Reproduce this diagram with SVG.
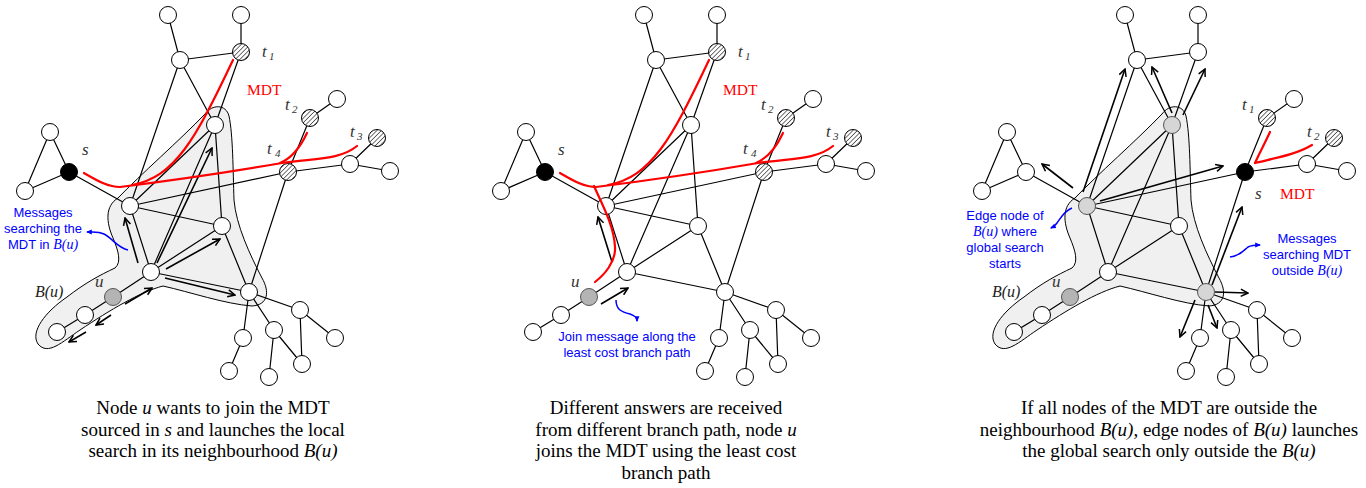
<svg xmlns="http://www.w3.org/2000/svg" width="1366" height="488" viewBox="0 0 1366 488">
<defs>
<style>
.e{stroke:#000;stroke-width:1.2;fill:none}
.n{fill:#fff;stroke:#000;stroke-width:1}
.nb{fill:#000;stroke:#000;stroke-width:1}
.nh{fill:url(#hatch);stroke:#000;stroke-width:1}
.ng{fill:#b4b4b4;stroke:#555;stroke-width:1}
.ne{fill:#d6d6d6;stroke:#555;stroke-width:1}
.blob{fill:#f0f0f0;stroke:#000;stroke-width:1}
.red{stroke:#f00;stroke-width:2.2;fill:none;stroke-linecap:round}
.ar{stroke:#000;stroke-width:1.6;fill:none;marker-end:url(#ah)}
.ba{stroke:#00f;stroke-width:1.5;fill:none;marker-end:url(#bh)}
.lbl{font-family:"Liberation Serif","Times New Roman",serif;font-style:italic;fill:#333;font-size:17px}
.sub{font-size:11px}
.mdt{font-family:"Liberation Serif","Times New Roman",serif;font-size:15.5px;fill:#f00}
.bt{font-family:"Liberation Sans",Arial,sans-serif;font-size:13px;fill:#00f;text-anchor:middle}
.cap{font-family:"Liberation Serif","Times New Roman",serif;font-size:19px;fill:#000;text-anchor:middle}
.it{font-family:"Liberation Serif","Times New Roman",serif;font-style:italic}
</style>
<pattern id="hatch" width="3.2" height="3.2" patternUnits="userSpaceOnUse" patternTransform="rotate(45)">
<rect width="3.2" height="3.2" fill="#fff"/>
<line x1="0" y1="0" x2="0" y2="3.2" stroke="#444" stroke-width="1.5"/>
</pattern>
<marker id="ah" viewBox="0 0 10 10" refX="9" refY="5" markerWidth="9" markerHeight="9" markerUnits="userSpaceOnUse" orient="auto">
<path d="M1,1 L9,5 L1,9" fill="none" stroke="#000" stroke-width="1.7"/>
</marker>
<marker id="bh" viewBox="0 0 10 10" refX="8" refY="5" markerWidth="6" markerHeight="6" markerUnits="userSpaceOnUse" orient="auto">
<path d="M0,1 L10,5 L0,9 Z" fill="#00f"/>
</marker>
<path id="blobshape" d="M118,198 C140,175 180,140 205,114 C212,104 226,104 229,116 C233,135 233,170 234,200 C236,225 250,255 262,278 C270,292 268,305 252,306 C225,304 190,292 163,286 C140,292 110,310 80,330 C62,342 48,356 38,344 C30,332 45,312 67,297 C85,283 100,275 115,268 C122,262 118,250 113,238 C106,222 105,206 118,198 Z"/>
<path id="edges" d="M168,15L180,60 M180,60L241,52 M241,52L241,15 M180,60L215,125 M180,60L130,206 M241,52L215,125 M215,125L130,206 M215,125L222,226 M215,125L151,272 M50,132L69,172 M50,132L25,191 M25,191L69,172 M69,172L130,206 M130,206L222,226 M130,206L288,172 M130,206L151,272 M151,272L222,226 M151,272L249,292 M151,272L113,297 M113,297L85,315 M85,315L57,332 M222,226L249,292 M249,292L288,172 M288,172L310,118 M310,118L337,99 M288,172L350,164 M350,164L377,138 M350,164L390,171 M249,292L300,310 M249,292L274,330 M249,292L243,338 M300,310L335,338 M300,310L302,364 M274,330L302,364 M274,330L269,377 M243,338L229,371"/>
</defs>

<g id="neighbourhoods">
<use href="#blobshape" class="blob"/>
<use href="#blobshape" class="blob" transform="translate(957,0)"/>
</g>

<g id="connectors">
<g id="edges-p1"><use href="#edges" class="e"/></g>
<g id="edges-p2" transform="translate(476,0)"><use href="#edges" class="e"/></g>
<g id="edges-p3" transform="translate(957,0)"><use href="#edges" class="e"/></g>
<g id="arrows-p1">
<path class="ar" d="M125,304 L152,288"/>
<path class="ar" d="M111,315 L96,325"/>
<path class="ar" d="M86,332 L69,342"/>
<path class="ar" d="M138,263 L125,218"/>
<path class="ar" d="M166,269 L220,239"/>
<path class="ar" d="M165,278 L235,295"/>
<path class="ar" d="M157,263 L212,148"/>
</g>
<g id="arrows-p2" transform="translate(476,0)">
<path class="ar" d="M125,304 L152,288"/>
<path class="ar" d="M136,262 L122,217"/>
</g>
<g id="arrows-p3" transform="translate(957,0)">
<path class="ar" d="M116,188 L85,164"/>
<path class="ar" d="M126,192 L168,69"/>
<path class="ar" d="M215,113 L195,67"/>
<path class="ar" d="M226,115 L248,69"/>
<path class="ar" d="M143,201 L266,166"/>
<path class="ar" d="M255,285 L285,207"/>
<path class="ar" d="M258,292 L291,293"/>
<path class="ar" d="M238,300 L223,337"/>
<path class="ar" d="M251,305 L260,328"/>
</g>
<g id="blue-arrows">
<path class="ba" d="M128,250 C118,248 112,238 104,234 C98,231 92,232 87,232"/>
<path class="ba" d="M616,300 C616,310 622,312 630,314 C636,316 637,318 637,321"/>
<path class="ba" d="M1072,208 C1064,211 1060,219 1057,223 C1055,226 1053,227 1051,228"/>
<path class="ba" d="M1230,257 C1240,256 1244,250 1248,247 C1252,245 1256,245 1260,245"/>
</g>
</g>

<g id="nodes-p1">
<g id="p1-top1"><circle class="n" cx="168" cy="15" r="8.5"/></g>
<g id="p1-b"><circle class="n" cx="180" cy="60" r="8.5"/></g>
<g id="p1-top2"><circle class="n" cx="241" cy="15" r="8.5"/></g>
<g id="p1-t1"><circle class="nh" cx="241" cy="52" r="8.5"/></g>
<g id="p1-c"><circle class="n" cx="215" cy="125" r="8.5"/></g>
<g id="p1-tri-top"><circle class="n" cx="50" cy="132" r="8.5"/></g>
<g id="p1-s"><circle class="nb" cx="69" cy="172" r="8.5"/></g>
<g id="p1-tri-left"><circle class="n" cx="25" cy="191" r="8.5"/></g>
<g id="p1-d"><circle class="n" cx="130" cy="206" r="8.5"/></g>
<g id="p1-e"><circle class="n" cx="222" cy="226" r="8.5"/></g>
<g id="p1-f"><circle class="n" cx="151" cy="272" r="8.5"/></g>
<g id="p1-u"><circle class="ng" cx="113" cy="297" r="8.5"/></g>
<g id="p1-u2"><circle class="n" cx="85" cy="315" r="8.5"/></g>
<g id="p1-u3"><circle class="n" cx="57" cy="332" r="8.5"/></g>
<g id="p1-g"><circle class="n" cx="249" cy="292" r="8.5"/></g>
<g id="p1-h"><circle class="n" cx="300" cy="310" r="8.5"/></g>
<g id="p1-i"><circle class="n" cx="274" cy="330" r="8.5"/></g>
<g id="p1-j"><circle class="n" cx="243" cy="338" r="8.5"/></g>
<g id="p1-k"><circle class="n" cx="335" cy="338" r="8.5"/></g>
<g id="p1-l"><circle class="n" cx="229" cy="371" r="8.5"/></g>
<g id="p1-m"><circle class="n" cx="269" cy="377" r="8.5"/></g>
<g id="p1-nn"><circle class="n" cx="302" cy="364" r="8.5"/></g>
<g id="p1-t2"><circle class="nh" cx="310" cy="118" r="8.5"/></g>
<g id="p1-t2n"><circle class="n" cx="337" cy="99" r="8.5"/></g>
<g id="p1-t3"><circle class="nh" cx="377" cy="138" r="8.5"/></g>
<g id="p1-t3n"><circle class="n" cx="350" cy="164" r="8.5"/></g>
<g id="p1-far"><circle class="n" cx="390" cy="171" r="8.5"/></g>
<g id="p1-t4"><circle class="nh" cx="288" cy="172" r="8.5"/></g>
</g>

<g id="nodes-p2" transform="translate(476,0)">
<g id="p2-top1"><circle class="n" cx="168" cy="15" r="8.5"/></g>
<g id="p2-b"><circle class="n" cx="180" cy="60" r="8.5"/></g>
<g id="p2-top2"><circle class="n" cx="241" cy="15" r="8.5"/></g>
<g id="p2-t1"><circle class="nh" cx="241" cy="52" r="8.5"/></g>
<g id="p2-c"><circle class="n" cx="215" cy="125" r="8.5"/></g>
<g id="p2-tri-top"><circle class="n" cx="50" cy="132" r="8.5"/></g>
<g id="p2-s"><circle class="nb" cx="69" cy="172" r="8.5"/></g>
<g id="p2-tri-left"><circle class="n" cx="25" cy="191" r="8.5"/></g>
<g id="p2-d"><circle class="n" cx="130" cy="206" r="8.5"/></g>
<g id="p2-e"><circle class="n" cx="222" cy="226" r="8.5"/></g>
<g id="p2-f"><circle class="n" cx="151" cy="272" r="8.5"/></g>
<g id="p2-u"><circle class="ng" cx="113" cy="297" r="8.5"/></g>
<g id="p2-u2"><circle class="n" cx="85" cy="315" r="8.5"/></g>
<g id="p2-u3"><circle class="n" cx="57" cy="332" r="8.5"/></g>
<g id="p2-g"><circle class="n" cx="249" cy="292" r="8.5"/></g>
<g id="p2-h"><circle class="n" cx="300" cy="310" r="8.5"/></g>
<g id="p2-i"><circle class="n" cx="274" cy="330" r="8.5"/></g>
<g id="p2-j"><circle class="n" cx="243" cy="338" r="8.5"/></g>
<g id="p2-k"><circle class="n" cx="335" cy="338" r="8.5"/></g>
<g id="p2-l"><circle class="n" cx="229" cy="371" r="8.5"/></g>
<g id="p2-m"><circle class="n" cx="269" cy="377" r="8.5"/></g>
<g id="p2-nn"><circle class="n" cx="302" cy="364" r="8.5"/></g>
<g id="p2-t2"><circle class="nh" cx="310" cy="118" r="8.5"/></g>
<g id="p2-t2n"><circle class="n" cx="337" cy="99" r="8.5"/></g>
<g id="p2-t3"><circle class="nh" cx="377" cy="138" r="8.5"/></g>
<g id="p2-t3n"><circle class="n" cx="350" cy="164" r="8.5"/></g>
<g id="p2-far"><circle class="n" cx="390" cy="171" r="8.5"/></g>
<g id="p2-t4"><circle class="nh" cx="288" cy="172" r="8.5"/></g>
</g>

<g id="nodes-p3" transform="translate(957,0)">
<g id="p3-top1"><circle class="n" cx="168" cy="15" r="8.5"/></g>
<g id="p3-b"><circle class="n" cx="180" cy="60" r="8.5"/></g>
<g id="p3-top2"><circle class="n" cx="241" cy="15" r="8.5"/></g>
<g id="p3-a"><circle class="n" cx="241" cy="52" r="8.5"/></g>
<g id="p3-c"><circle class="ne" cx="215" cy="125" r="8.5"/></g>
<g id="p3-tri-top"><circle class="n" cx="50" cy="132" r="8.5"/></g>
<g id="p3-tri-right"><circle class="n" cx="69" cy="172" r="8.5"/></g>
<g id="p3-tri-left"><circle class="n" cx="25" cy="191" r="8.5"/></g>
<g id="p3-d"><circle class="ne" cx="130" cy="206" r="8.5"/></g>
<g id="p3-e"><circle class="n" cx="222" cy="226" r="8.5"/></g>
<g id="p3-f"><circle class="n" cx="151" cy="272" r="8.5"/></g>
<g id="p3-u"><circle class="ng" cx="113" cy="297" r="8.5"/></g>
<g id="p3-u2"><circle class="n" cx="85" cy="315" r="8.5"/></g>
<g id="p3-u3"><circle class="n" cx="57" cy="332" r="8.5"/></g>
<g id="p3-g"><circle class="ne" cx="249" cy="292" r="8.5"/></g>
<g id="p3-h"><circle class="n" cx="300" cy="310" r="8.5"/></g>
<g id="p3-i"><circle class="n" cx="274" cy="330" r="8.5"/></g>
<g id="p3-j"><circle class="n" cx="243" cy="338" r="8.5"/></g>
<g id="p3-k"><circle class="n" cx="335" cy="338" r="8.5"/></g>
<g id="p3-l"><circle class="n" cx="229" cy="371" r="8.5"/></g>
<g id="p3-m"><circle class="n" cx="269" cy="377" r="8.5"/></g>
<g id="p3-nn"><circle class="n" cx="302" cy="364" r="8.5"/></g>
<g id="p3-t1"><circle class="nh" cx="310" cy="118" r="8.5"/></g>
<g id="p3-t1n"><circle class="n" cx="337" cy="99" r="8.5"/></g>
<g id="p3-t2"><circle class="nh" cx="377" cy="138" r="8.5"/></g>
<g id="p3-t2n"><circle class="n" cx="350" cy="164" r="8.5"/></g>
<g id="p3-far"><circle class="n" cx="390" cy="171" r="8.5"/></g>
<g id="p3-s"><circle class="nb" cx="288" cy="172" r="8.5"/></g>
</g>

<g id="mdt-trees">
<g id="mdt-p1">
<path class="red" d="M84,173 C98,181 108,187 120,187 C160,182 230,172 282,163 C315,158 340,160 357,146"/>
<path class="red" d="M132,185 C175,177 195,140 233,60"/>
<path class="red" d="M280,163 C292,158 300,148 307,133"/>
</g>
<g id="mdt-p2" transform="translate(476,0)">
<path class="red" d="M84,173 C98,181 108,187 120,187 C160,182 230,172 282,163 C315,158 340,160 357,146"/>
<path class="red" d="M132,185 C175,177 195,140 233,60"/>
<path class="red" d="M280,163 C292,158 300,148 307,133"/>
<path class="red" d="M118,186 C124,200 138,225 139,247 C140,262 128,275 119,282"/>
</g>
<g id="mdt-p3">
<path class="red" d="M1270,132 C1264,145 1259,154 1255,163"/>
<path class="red" d="M1255,163 C1275,158 1295,155 1312,145"/>
</g>
</g>

<g id="labels">
<text class="lbl" x="82" y="155">s</text>
<text class="lbl" x="262" y="57">t<tspan class="sub" x="269" y="60">1</tspan></text>
<text class="lbl" x="285" y="110">t<tspan class="sub" x="292" y="113">2</tspan></text>
<text class="lbl" x="350" y="137">t<tspan class="sub" x="357" y="140">3</tspan></text>
<text class="lbl" x="267" y="154">t<tspan class="sub" x="275" y="157">4</tspan></text>
<text class="mdt" x="247" y="95">MDT</text>
<text class="lbl" x="95" y="287">u</text>
<text class="lbl" x="35" y="297" style="fill:#222;font-size:16px">B(u)</text>
<text class="bt" x="43" y="217">Messages</text>
<text class="bt" x="43" y="233">searching the</text>
<text class="bt" x="43" y="249">MDT in <tspan class="it" font-size="14">B(u)</tspan></text>

<text class="lbl" x="558" y="155">s</text>
<text class="lbl" x="738" y="57">t<tspan class="sub" x="745" y="60">1</tspan></text>
<text class="lbl" x="761" y="110">t<tspan class="sub" x="768" y="113">2</tspan></text>
<text class="lbl" x="826" y="137">t<tspan class="sub" x="833" y="140">3</tspan></text>
<text class="lbl" x="743" y="154">t<tspan class="sub" x="751" y="157">4</tspan></text>
<text class="mdt" x="723" y="95">MDT</text>
<text class="lbl" x="571" y="287">u</text>
<text class="bt" x="627" y="341">Join message along the</text>
<text class="bt" x="627" y="357">least cost branch path</text>

<text class="lbl" x="1242" y="110">t<tspan class="sub" x="1249" y="113">1</tspan></text>
<text class="lbl" x="1307" y="137">t<tspan class="sub" x="1314" y="140">2</tspan></text>
<text class="lbl" x="1255" y="199">s</text>
<text class="mdt" x="1280" y="199">MDT</text>
<text class="lbl" x="1052" y="287">u</text>
<text class="lbl" x="992" y="297" style="fill:#222;font-size:16px">B(u)</text>
<text class="bt" x="1005" y="220">Edge node of</text>
<text class="bt" x="1005" y="236"><tspan class="it" font-size="14">B(u)</tspan> where</text>
<text class="bt" x="1005" y="252">global search</text>
<text class="bt" x="1005" y="268">starts</text>
<text class="bt" x="1307" y="243">Messages</text>
<text class="bt" x="1307" y="259">searching MDT</text>
<text class="bt" x="1307" y="275">outside <tspan class="it" font-size="14">B(u)</tspan></text>
</g>

<g id="captions">
<text class="cap" x="213" y="414">Node <tspan class="it">u</tspan> wants to join the MDT</text>
<text class="cap" x="213" y="436">sourced in <tspan class="it">s</tspan> and launches the local</text>
<text class="cap" x="213" y="457">search in its neighbourhood <tspan class="it">B(u)</tspan></text>
<text class="cap" x="666" y="414">Different answers are received</text>
<text class="cap" x="666" y="436">from different branch path, node <tspan class="it">u</tspan></text>
<text class="cap" x="666" y="457">joins the MDT using the least cost</text>
<text class="cap" x="666" y="479">branch path</text>
<text class="cap" x="1169" y="414">If all nodes of the MDT are outside the</text>
<text class="cap" x="1169" y="436">neighbourhood <tspan class="it">B(u)</tspan>, edge nodes of <tspan class="it">B(u)</tspan> launches</text>
<text class="cap" x="1169" y="457">the global search only outside the <tspan class="it">B(u)</tspan></text>
</g>
</svg>
